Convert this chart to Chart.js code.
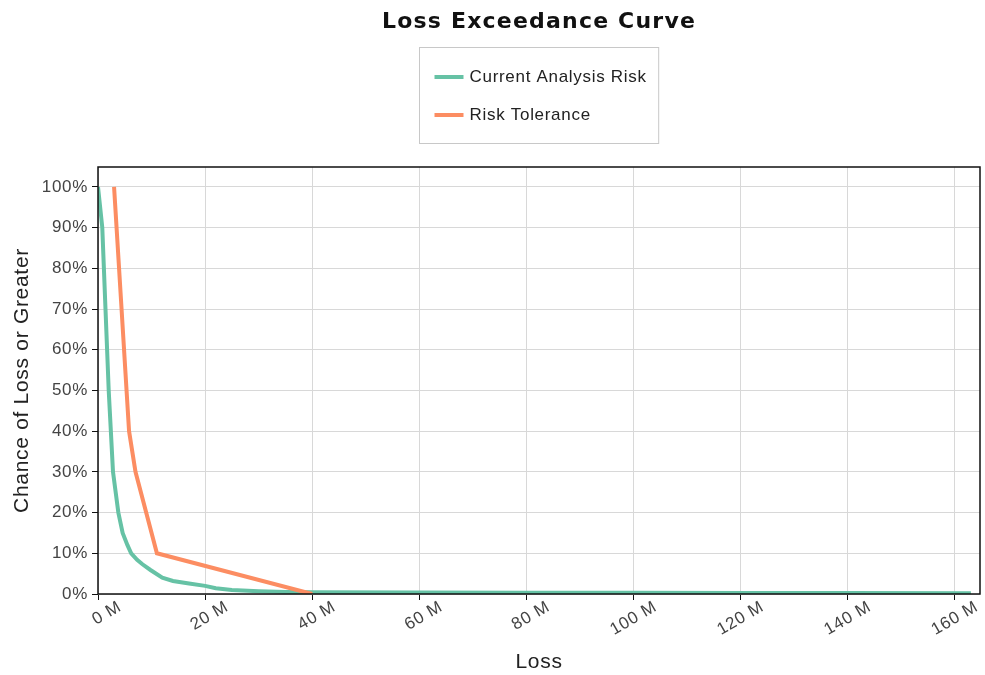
<!DOCTYPE html>
<html>
<head>
<meta charset="utf-8">
<script src="https://cdn.jsdelivr.net/npm/chart.js@4.4.1/dist/chart.umd.min.js"></script>
<style>
  html, body { margin: 0; padding: 0; background: #fff; }
  #wrap { width: 985px; height: 675px; position: relative; }
</style>
</head>
<body>
<div id="wrap"><canvas id="lec"></canvas></div>
<script>
// Loss amounts in millions, chance of loss or greater in percent
const chartTitle = 'Loss Exceedance Curve';
const seriesNames = ['Current Analysis Risk', 'Risk Tolerance'];
const seriesColors = ['#66c2a5', '#fc8d62'];

const currentLoss = [0, 0.4, 0.8, 1.1, 1.4, 1.7, 2.0, 2.4, 2.8, 3.3, 3.8, 4.6, 5.5, 6.2, 7.3, 8.3, 9.8, 12, 14, 17, 20, 22, 25, 30, 35, 40, 60, 80, 100, 120, 140, 163];
const currentChance = [100, 95, 90, 80, 70, 60, 50, 40, 30, 25, 20, 15, 12, 10, 8.4, 7.3, 5.9, 4.0, 3.2, 2.6, 2.0, 1.4, 1.0, 0.7, 0.5, 0.4, 0.35, 0.3, 0.3, 0.25, 0.25, 0.2];

const toleranceLoss = [3.0, 5.8, 7.0, 11.0, 40.0];
const toleranceChance = [100, 40, 30, 10, 0];

const xTicks = [0, 20, 40, 60, 80, 100, 120, 140, 160];
const yTicks = [0, 10, 20, 30, 40, 50, 60, 70, 80, 90, 100];
const xMax = 164.7;
const yMax = 104.9;

const toPoints = (xs, ys) => xs.map((x, i) => ({ x: x, y: ys[i] }));

const FONT = "'Liberation Sans', Arial, sans-serif";
const TITLE_FONT = "bold 22px 'DejaVu Sans', Verdana, sans-serif";
const SPACING = '0.7px';

// Slightly open letter spacing for every label on the canvas
const spacing = {
  id: 'spacing',
  beforeUpdate(chart) { chart.ctx.letterSpacing = SPACING; },
  beforeLayout(chart) { chart.ctx.letterSpacing = SPACING; },
  beforeDraw(chart) { chart.ctx.letterSpacing = SPACING; },
  resize(chart) { chart.ctx.letterSpacing = SPACING; }
};

// Black frame around the plot area
const frame = {
  id: 'frame',
  afterDatasetsDraw(chart) {
    const { ctx, chartArea: a } = chart;
    ctx.save();
    ctx.strokeStyle = '#111';
    ctx.lineWidth = 1.5;
    ctx.strokeRect(a.left, a.top, a.right - a.left, a.bottom - a.top);
    ctx.restore();
  }
};

// Title and boxed legend (one row per series), centred over the plot area
const header = {
  id: 'header',
  afterDraw(chart) {
    const { ctx, chartArea: a } = chart;
    const cx = (a.left + a.right) / 2;
    ctx.save();
    ctx.letterSpacing = '1.2px';
    ctx.font = TITLE_FONT;
    ctx.fillStyle = '#111';
    ctx.textAlign = 'center';
    ctx.textBaseline = 'middle';
    ctx.fillText(chartTitle, cx, 22);

    ctx.letterSpacing = SPACING;
    ctx.font = '17px ' + FONT;
    const textW = Math.max(...seriesNames.map(n => ctx.measureText(n).width));
    const padL = 15, sample = 29, gap = 6, padR = 12;
    const w = padL + sample + gap + textW + padR;
    const h = 96;
    const left = Math.round(cx - w / 2) + 0.5;
    const top = 47.5;
    ctx.strokeStyle = '#c8c8c8';
    ctx.lineWidth = 1;
    ctx.strokeRect(left, top, w, h);
    const rows = [77, 115];
    seriesNames.forEach((name, i) => {
      const y = rows[i];
      ctx.strokeStyle = seriesColors[i];
      ctx.lineWidth = 4;
      ctx.beginPath();
      ctx.moveTo(left + padL, y);
      ctx.lineTo(left + padL + sample, y);
      ctx.stroke();
      ctx.fillStyle = '#222';
      ctx.textBaseline = 'middle';
      ctx.textAlign = 'left';
      ctx.fillText(name, left + padL + sample + gap, y);
    });
    ctx.restore();
  }
};

new Chart(document.getElementById('lec'), {
  type: 'line',
  data: {
    datasets: [
      {
        label: seriesNames[0],
        data: toPoints(currentLoss, currentChance),
        borderColor: seriesColors[0],
        backgroundColor: seriesColors[0],
        borderWidth: 4,
        pointRadius: 0,
        tension: 0,
        fill: false,
        order: 1
      },
      {
        label: seriesNames[1],
        data: toPoints(toleranceLoss, toleranceChance),
        borderColor: seriesColors[1],
        backgroundColor: seriesColors[1],
        borderWidth: 4,
        pointRadius: 0,
        tension: 0,
        fill: false,
        order: 0
      }
    ]
  },
  options: {
    responsive: true,
    maintainAspectRatio: false,
    animation: false,
    layout: { padding: { left: 0, right: 5, top: 167, bottom: 0 } },
    plugins: {
      legend: { display: false },
      tooltip: { enabled: false },
      title: { display: false }
    },
    scales: {
      x: {
        type: 'linear',
        min: 0,
        max: xMax,
        afterBuildTicks(scale) { scale.ticks = xTicks.map(v => ({ value: v })); },
        afterFit(scale) { scale.height = 81; },
        ticks: {
          color: '#444',
          font: { family: FONT, size: 17 },
          minRotation: 30,
          maxRotation: 30,
          labelOffset: 22,
          padding: -3,
          callback: v => v + ' M'
        },
        grid: { color: '#d8d8d8', lineWidth: 1, tickColor: '#111', tickLength: 6, drawTicks: true },
        border: { display: false },
        title: {
          display: true,
          text: 'Loss',
          color: '#222',
          font: { family: FONT, size: 21 },
          padding: { top: 0, bottom: 0 }
        }
      },
      y: {
        type: 'linear',
        min: 0,
        max: yMax,
        afterBuildTicks(scale) { scale.ticks = yTicks.map(v => ({ value: v })); },
        afterFit(scale) { scale.width = 98; },
        ticks: {
          color: '#444',
          font: { family: FONT, size: 17 },
          padding: 4,
          callback: v => v + '%'
        },
        grid: { color: '#d8d8d8', lineWidth: 1, tickColor: '#111', tickLength: 6 },
        border: { display: false },
        title: {
          display: true,
          text: 'Chance of Loss or Greater',
          color: '#222',
          font: { family: FONT, size: 21 },
          padding: { top: 10, bottom: 0 }
        }
      }
    }
  },
  plugins: [spacing, frame, header]
});
</script>
</body>
</html>
